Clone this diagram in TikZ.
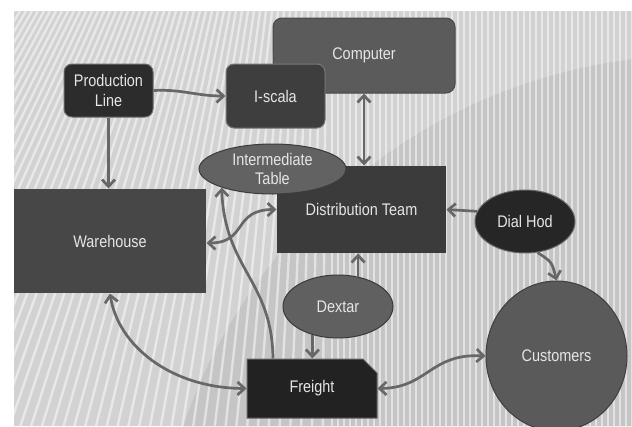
\documentclass[tikz,border=0pt]{standalone}
\usepackage{fontspec}
\setmainfont{Liberation Sans}[FakeStretch=0.86]
\usetikzlibrary{arrows.meta,shapes.geometric,shapes.misc,calc}
\definecolor{bgc}{HTML}{D2D2D2}
\definecolor{txt}{HTML}{E6E6E6}
\definecolor{arrc}{HTML}{676767}
\definecolor{prodc}{HTML}{2C2C2C}
\definecolor{iscc}{HTML}{3E3E3E}
\definecolor{compc}{HTML}{5B5B5B}
\definecolor{itc}{HTML}{626262}
\definecolor{dtc}{HTML}{3B3B3B}
\definecolor{whc}{HTML}{474747}
\definecolor{dhc}{HTML}{262626}
\definecolor{dxc}{HTML}{606060}
\definecolor{cuc}{HTML}{5A5A5A}
\definecolor{frc}{HTML}{222222}
\begin{document}
\begin{tikzpicture}[x=1pt,y=-1pt,
  base/.style={text=txt, font=\fontsize{16.8}{19.5}\selectfont, align=center, inner sep=0pt, line width=1pt},
  rbox/.style={base, rectangle, rounded corners=9pt},
  sbox/.style={base, rectangle},
  ell/.style={base, ellipse},
  tip/.tip={Straight Barb[length=7pt,width=13pt]},
  conn/.style={draw=arrc, line width=2.7pt, -tip},
  dconn/.style={draw=arrc, line width=2.7pt, tip-tip},
  stripe/.style={draw=white, line width=2.4pt, opacity=.5}]
\useasboundingbox (0,0) rectangle (632,426);
\fill[white] (0,0) rectangle (632,426);
\begin{scope}
  \clip (14,11) rectangle (632,426);
  \fill[bgc] (14,11) rectangle (632,426);
  \fill[black,opacity=.06] (700,600) circle[radius=545pt];
  \foreach \i in {0,...,104} {
    \pgfmathsetmacro\xt{14+6*\i}
    \pgfmathsetmacro\sh{max(0,0.8*(330-\xt))}
    \draw[stripe] (\xt,11) -- (\xt-\sh,426);
  }
\end{scope}

% nodes
\node[rbox, fill=compc, draw=compc!80!black, minimum width=182pt, minimum height=75pt] (comp) at (364,55.5) {Computer};
\node[rbox, fill=iscc, draw=iscc!70!white, minimum width=99pt, minimum height=64pt, rounded corners=8pt] (isc) at (275.5,96) {I-scala};
\node[rbox, fill=prodc, draw=prodc!70!white, minimum width=89pt, minimum height=53pt, rounded corners=8pt] (prod) at (108.5,90.5) {Production\\Line};
\node[sbox, fill=whc, minimum width=192pt, minimum height=104pt] (wh) at (110,241) {Warehouse};
\node[sbox, fill=dtc, minimum width=169pt, minimum height=87pt] (dt) at (361.5,209.5) {Distribution Team};
\node[ell, fill=itc, draw=itc!60!black, minimum width=147pt, minimum height=50pt] (it) at (272.5,169) {Intermediate\\Table};
\node[ell, fill=dhc, draw=dhc!70!white, minimum width=100pt, minimum height=63pt] (dh) at (525,221.5) {Dial Hod};
\node[ell, fill=dxc, draw=dxc!60!black, minimum width=110pt, minimum height=63pt] (dx) at (338,306.5) {Dextar};
\node[ell, fill=cuc, draw=cuc!70!black, minimum width=141pt, minimum height=150pt] (cu) at (556.5,356) {Customers};
\node[base, chamfered rectangle, chamfered rectangle corners=north east, chamfered rectangle xsep=7pt, chamfered rectangle ysep=7pt, fill=frc, draw=frc!70!white, minimum width=130pt, minimum height=59pt] (fr) at (312,388.5) {Freight};

% connectors
\draw[conn] (prod.east) .. controls (182,89) and (196,96) .. (isc.west);
\draw[conn] (prod.south) -- (prod.south |- wh.north);
\draw[dconn] (comp.south) -- (comp.south |- dt.north);
\draw[dconn] ($(wh.east)+(0,2)$) .. controls (248,243) and (232,209.5) .. (dt.west);
\draw[conn] (dh.168) -- (dt.east);
\draw[conn] (dh.-68) .. controls (552,262) .. (cu.north);
\draw[conn] (dx.56) -- (dx.56 |- dt.south);
\draw[conn] (dx.-132) -- (dx.-132 |- fr.north);
\draw[conn] ($(fr.north)+(-39,0)$) .. controls (272,280) and (225,270) .. (it.200);
\draw[dconn] (wh.south) .. controls (118,345) and (170,388) .. (fr.west);
\draw[dconn] (fr.east) .. controls (428,388) and (430,353) .. (cu.west);
\end{tikzpicture}
\end{document}
